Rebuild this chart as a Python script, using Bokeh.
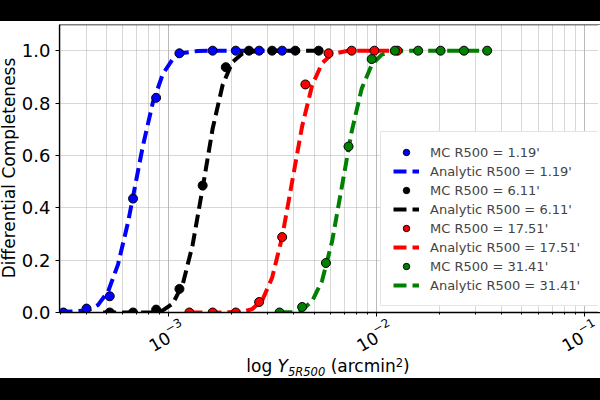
import math
from bokeh.plotting import figure
from bokeh.models import (Legend, LegendItem, FixedTicker, Div, Span, LogAxis, LogScale,
                          LogTickFormatter, PrintfTickFormatter, Range1d,
                          CustomJSTickFormatter)
from bokeh.layouts import column, row
from bokeh.embed import file_html
from bokeh.resources import INLINE

FONT = "DejaVu Sans"

series_labels = ["1.19'", "6.11'", "17.51'", "31.41'"]
series_colors = ["#0000ff", "#000000", "#ff0000", "#008000"]

# Monte Carlo points
mc_x_blue = [3.11e-4, 4.02e-4, 5.20e-4, 6.73e-4, 8.69e-4, 1.125e-3, 1.625e-3, 2.10e-3, 2.72e-3, 3.51e-3]
mc_y_blue = [0.0, 0.015, 0.062, 0.435, 0.82, 0.99, 1.0, 1.0, 1.0, 1.0]
mc_x_black = [5.20e-4, 6.73e-4, 8.69e-4, 1.125e-3, 1.455e-3, 1.88e-3, 2.43e-3, 3.14e-3, 4.06e-3, 5.26e-3]
mc_y_black = [0.0, 0.0, 0.011, 0.09, 0.485, 0.937, 1.0, 1.0, 1.0, 1.0]
mc_x_red = [1.256e-3, 1.625e-3, 2.10e-3, 2.72e-3, 3.51e-3, 4.54e-3, 5.87e-3, 7.58e-3, 9.75e-3, 1.26e-2]
mc_y_red = [0.0, 0.0, 0.0, 0.040, 0.288, 0.871, 0.99, 1.0, 1.0, 1.0]
mc_x_green = [3.41e-3, 4.38e-3, 5.70e-3, 7.32e-3, 9.46e-3, 1.224e-2, 1.583e-2, 2.03e-2, 2.63e-2, 3.40e-2]
mc_y_green = [0.0, 0.021, 0.189, 0.634, 0.968, 1.0, 1.0, 1.0, 1.0, 1.0]

# Analytic curves
an_x_blue = [2.98e-4, 3.47e-4, 4.10e-4, 4.57e-4, 5.11e-4, 5.70e-4, 6.37e-4, 6.95e-4, 7.51e-4,
             8.38e-4, 9.36e-4, 1.045e-3, 1.167e-3, 1.377e-3, 1.625e-3, 2.26e-3, 3.92e-3]
an_y_blue = [0.003, 0.004, 0.009, 0.029, 0.081, 0.184, 0.345, 0.5, 0.637,
             0.802, 0.911, 0.968, 0.991, 0.999, 1.0, 1.0, 1.0]
an_x_black = [4.83e-4, 6.73e-4, 8.38e-4, 9.36e-4, 1.045e-3, 1.167e-3, 1.302e-3, 1.455e-3,
              1.625e-3, 1.814e-3, 2.02e-3, 2.26e-3, 2.67e-3, 3.14e-3, 3.92e-3, 5.46e-3]
an_y_black = [0.0, 0.0, 0.001, 0.008, 0.034, 0.108, 0.258, 0.476,
              0.702, 0.868, 0.956, 0.989, 0.999, 1.0, 1.0, 1.0]
an_x_red = [1.256e-3, 1.814e-3, 2.26e-3, 2.52e-3, 2.82e-3, 3.14e-3, 3.51e-3, 3.92e-3,
            4.38e-3, 4.89e-3, 5.46e-3, 6.10e-3, 7.18e-3, 8.47e-3, 1.318e-2]
an_y_red = [0.0, 0.0, 0.003, 0.013, 0.048, 0.133, 0.288, 0.5,
            0.712, 0.867, 0.952, 0.987, 0.999, 1.0, 1.0]
an_x_green = [3.41e-3, 3.92e-3, 4.38e-3, 4.89e-3, 5.46e-3, 6.10e-3, 6.87e-3, 7.58e-3,
              8.47e-3, 9.46e-3, 1.057e-2, 1.247e-2, 1.471e-2, 3.55e-2]
an_y_green = [0.0, 0.002, 0.011, 0.043, 0.121, 0.271, 0.5, 0.691,
              0.855, 0.946, 0.985, 0.999, 1.0, 1.0]

y_ticks = [0.0, 0.2, 0.4, 0.6, 0.8, 1.0]
x_major_ticks = [1e-3, 1e-2, 1e-1]

mc_x = [mc_x_blue, mc_x_black, mc_x_red, mc_x_green]
mc_y = [mc_y_blue, mc_y_black, mc_y_red, mc_y_green]
an_x = [an_x_blue, an_x_black, an_x_red, an_x_green]
an_y = [an_y_blue, an_y_black, an_y_red, an_y_green]

X_START, X_END = 2.98e-4, 0.1193
LABEL_SHIFT = 1.165  # rotated tick labels are centred on the tick, as in the reference

p = figure(width=582, height=344, x_axis_type="log",
           x_range=Range1d(X_START, X_END), y_range=Range1d(0.0, 1.1),
           output_backend="svg", toolbar_location=None,
           min_border_left=38, min_border_right=0, min_border_top=3, min_border_bottom=53,
           background_fill_color="white", border_fill_color="white")
p.outline_line_color = None

# grid
for g in (p.xgrid, p.ygrid):
    g.grid_line_color = "#b0b0b0"
    g.grid_line_dash = "1 1"
    g.grid_line_width = 1
p.xgrid.minor_grid_line_color = "#b0b0b0"
p.xgrid.minor_grid_line_dash = "1 1"
p.xgrid.minor_grid_line_width = 1

# axes
p.yaxis.ticker = FixedTicker(ticks=y_ticks)
p.yaxis.formatter = PrintfTickFormatter(format="%.1f")
for ax in (p.xaxis[0], p.yaxis[0]):
    ax.axis_line_color = "black"
    ax.axis_line_width = 1.3
    ax.major_tick_line_color = "black"
    ax.major_tick_out = 4
    ax.major_tick_in = 0
    ax.minor_tick_out = 2
    ax.minor_tick_in = 0
    ax.major_label_text_font = FONT
    ax.major_label_text_color = "black"
p.yaxis.major_label_text_font_size = "18px"
p.yaxis.minor_tick_line_color = None
p.yaxis.major_label_standoff = 5

p.xaxis.formatter = CustomJSTickFormatter(code="return '';")
p.xaxis.major_label_text_font_size = "1px"
p.xaxis.major_label_standoff = 0

# tick labels of the log axis, rotated
p.extra_x_ranges = {"lab": Range1d(X_START / LABEL_SHIFT, X_END / LABEL_SHIFT)}
p.extra_x_scales = {"lab": LogScale()}
lab_axis = LogAxis(x_range_name="lab", ticker=FixedTicker(ticks=x_major_ticks),
                   formatter=LogTickFormatter(),
                   axis_line_color=None, major_tick_line_color=None, minor_tick_line_color=None,
                   major_label_orientation=math.pi / 6, major_label_standoff=2,
                   major_label_text_font=FONT, major_label_text_font_size="17px",
                   major_label_text_color="black")
p.add_layout(lab_axis, "below")

# top spine
p.add_layout(Span(location=1.1, dimension="width", line_color="black", line_width=1.3))

line_renderers = []
point_renderers = []
for i in range(4):
    r = p.line(an_x[i], an_y[i], line_color=series_colors[i], line_width=4, line_dash="13 6")
    line_renderers.append(r)
for i in range(4):
    r = p.scatter(mc_x[i], mc_y[i], size=9, fill_color=series_colors[i], line_color="black",
                  line_width=1)
    point_renderers.append(r)

items = []
for i in range(4):
    items.append(LegendItem(label="MC R500 = " + series_labels[i], renderers=[point_renderers[i]]))
    items.append(LegendItem(label="Analytic R500 = " + series_labels[i], renderers=[line_renderers[i]]))
legend = Legend(items=items, location=(321, 6), label_text_font=FONT,
                label_text_font_size="13px", glyph_width=26, glyph_height=16,
                label_height=16, label_width=156, spacing=3, padding=12, margin=0,
                label_standoff=11, border_line_color="#cccccc", border_line_width=1,
                background_fill_color="white", background_fill_alpha=1.0)
p.add_layout(legend, "center")

ylabel_html = (
    '<div style="width:288px;height:18px;line-height:18px;transform-origin:0 0;'
    'transform:translate(0px,291px) rotate(-90deg);text-align:center;white-space:nowrap;'
    "font-family:'DejaVu Sans';font-size:17px;color:black;\">Differential Completeness</div>"
)
xlabel_html = (
    '<div style="width:544px;margin-left:56px;text-align:center;'
    "font-family:'DejaVu Sans';font-size:17px;line-height:18px;color:black;white-space:nowrap;\">"
    'log <i>Y</i><sub style="font-size:11.5px;line-height:0;vertical-align:-3.5px;"><i>5R500</i></sub>'
    ' (arcmin<sup style="font-size:11.5px;line-height:0;vertical-align:5px;">2</sup>)</div>'
)

top_bar = Div(text="", width=600, height=21, margin=0, styles={"background-color": "black"})
ylabel_div = Div(text=ylabel_html, width=18, height=344, margin=0,
                 styles={"background-color": "white"})
# the axes continue past the right edge of the picture: no right-hand spine is visible
edge_cover = Div(text="", width=2, height=287, margin=(4, 0, 0, -2),
                 styles={"background-color": "white", "position": "relative", "z-index": "5"})
xlabel_div = Div(text=xlabel_html, width=600, height=21, margin=(-8, 0, 0, 0),
                 styles={"position": "relative", "z-index": "5", "overflow": "visible"})
bottom_bar = Div(text="", width=600, height=22, margin=0, styles={"background-color": "black"})
layout = column(top_bar, row(ylabel_div, p, edge_cover, spacing=0), xlabel_div, bottom_bar,
                spacing=0)

open("out.html", "w").write(file_html(layout, INLINE))
